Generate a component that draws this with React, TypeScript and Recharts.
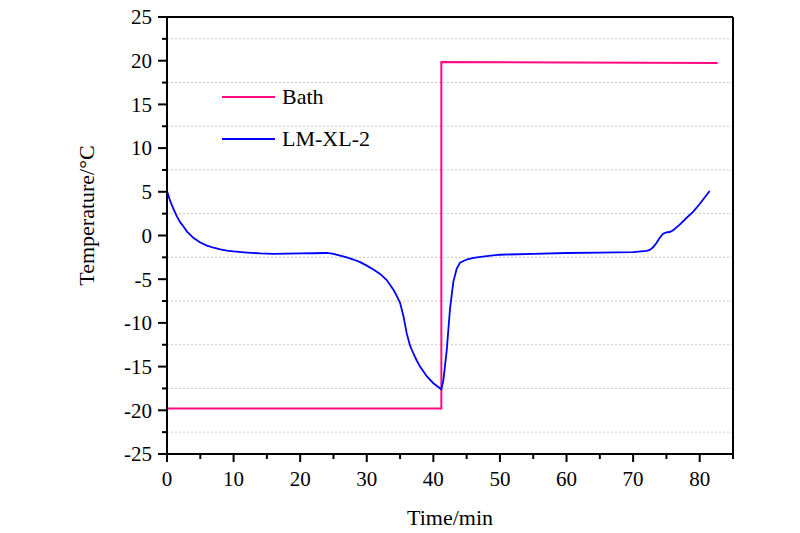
import React from "react";
import {
  LineChart,
  Line,
  XAxis,
  YAxis,
  CartesianGrid,
  ReferenceLine,
  Legend,
  Label,
} from "recharts";

// bath set-point (step change at ~41 min)
const bathTime = [0, 0, 41.2, 41.2, 60, 82.7];
const bathTemp = [20, -19.8, -19.8, 19.85, 19.8, 19.75];

// LM-XL-2 sample temperature
const sampleTime = [
  0, 0.5, 1, 1.5, 2, 2.5, 3, 4, 5, 6, 7, 8, 9, 10, 12, 14, 16, 18, 20, 22, 24,
  25, 26, 27, 28, 29, 30, 31, 32, 33, 34, 34.5, 35, 35.5, 36, 36.5, 37, 37.5,
  38, 39, 40, 41.2, 41.5, 42, 42.5, 43, 43.5, 44, 45, 46, 48, 50, 55, 60, 65,
  70, 72, 72.5, 73, 73.5, 74, 74.5, 75, 75.5, 76, 77, 78, 79, 80, 81, 81.5,
];
const sampleTemp = [
  5.1, 3.9, 3.0, 2.15, 1.5, 1.0, 0.45, -0.3, -0.8, -1.15, -1.4, -1.6, -1.72,
  -1.82, -1.95, -2.05, -2.1, -2.08, -2.05, -2.03, -2.0, -2.1, -2.3, -2.5,
  -2.75, -3.05, -3.45, -3.9, -4.4, -5.1, -6.2, -6.9, -7.7, -9.2, -11.2, -12.6,
  -13.5, -14.3, -15.0, -16.1, -16.9, -17.6, -16.6, -13.2, -8.4, -5.3, -3.8,
  -3.1, -2.75, -2.55, -2.35, -2.2, -2.1, -2.0, -1.95, -1.9, -1.75, -1.65,
  -1.35, -0.85, -0.25, 0.2, 0.35, 0.4, 0.6, 1.25, 2.0, 2.7, 3.6, 4.6, 5.1,
];

const timeTicks = [0, 5, 10, 15, 20, 25, 30, 35, 40, 45, 50, 55, 60, 65, 70, 75, 80, 85];
const tempTicks = [
  -25, -22.5, -20, -17.5, -15, -12.5, -10, -7.5, -5, -2.5, 0, 2.5, 5, 7.5, 10,
  12.5, 15, 17.5, 20, 22.5, 25,
];
const gridTemps = [22.5, 17.5, 12.5, 7.5, 2.5, -2.5, -7.5, -12.5, -17.5, -22.5];

const bathData = bathTime.map((t, i) => ({ time: t, temp: bathTemp[i] }));
const sampleData = sampleTime.map((t, i) => ({ time: t, temp: sampleTemp[i] }));

const FONT = '"Liberation Serif", "Times New Roman", serif';
const PINK = "#ff0a80";
const BLUE = "#0000ff";
const TICK_SIZE = 9;
const Y_GAP = 6;
const X_GAP = 8;

const YTick = (props: any) => {
  const { x, y, payload } = props;
  const v = payload.value;
  const major = v % 5 === 0;
  const axisX = x + TICK_SIZE + Y_GAP;
  return (
    <g>
      <line x1={axisX - (major ? 9 : 5)} x2={axisX} y1={y} y2={y} stroke="#000" strokeWidth={2} />
      {major && (
        <text x={x} y={y} dy="0.35em" textAnchor="end" fontSize={21} fontFamily={FONT} fill="#000">
          {v}
        </text>
      )}
    </g>
  );
};

const XTick = (props: any) => {
  const { x, y, payload } = props;
  const v = payload.value;
  const major = v % 10 === 0;
  const axisY = y - TICK_SIZE - X_GAP;
  return (
    <g>
      <line x1={x} x2={x} y1={axisY} y2={axisY + (major ? 8 : 5)} stroke="#000" strokeWidth={2} />
      {major && (
        <text x={x} y={y} dy="0.71em" textAnchor="middle" fontSize={21} fontFamily={FONT} fill="#000">
          {v}
        </text>
      )}
    </g>
  );
};

const renderLegend = () => (
  <div style={{ fontFamily: FONT, fontSize: 22, color: "#000" }}>
    {[
      { name: "Bath", color: PINK },
      { name: "LM-XL-2", color: BLUE },
    ].map((item) => (
      <div key={item.name} style={{ display: "flex", alignItems: "center", height: 42 }}>
        <svg width={53} height={4} style={{ display: "block" }}>
          <line x1={0} x2={53} y1={2} y2={2} stroke={item.color} strokeWidth={2} />
        </svg>
        <span style={{ marginLeft: 7, lineHeight: "22px" }}>{item.name}</span>
      </div>
    ))}
  </div>
);

export default function App() {
  return (
    <div style={{ position: "absolute", left: 0, top: 0, width: 800, height: 533, background: "#fff" }}>
      <LineChart width={800} height={533} margin={{ top: 17, right: 67, left: 0, bottom: 0 }}>
        <CartesianGrid
          vertical={false}
          horizontalValues={gridTemps}
          stroke="#c8c8c8"
          strokeDasharray="2 2"
        />
        <XAxis
          dataKey="time"
          type="number"
          domain={[0, 85]}
          ticks={timeTicks}
          interval={0}
          height={79}
          tickSize={TICK_SIZE}
          tickMargin={X_GAP}
          tickLine={false}
          axisLine={{ stroke: "#000", strokeWidth: 2 }}
          tick={<XTick />}
        >
          <Label
            content={(p: any) => {
              const vb = p.viewBox;
              return (
                <text x={vb.x + vb.width / 2} y={vb.y + 71} textAnchor="middle" fontSize={22} fontFamily={FONT} fill="#000">
                  Time/min
                </text>
              );
            }}
          />
        </XAxis>
        <YAxis
          type="number"
          domain={[-25, 25]}
          ticks={tempTicks}
          interval={0}
          width={167}
          tickSize={TICK_SIZE}
          tickMargin={Y_GAP}
          tickLine={false}
          axisLine={{ stroke: "#000", strokeWidth: 2 }}
          tick={<YTick />}
        >
          <Label
            content={(p: any) => {
              const vb = p.viewBox;
              const cx = vb.x + 86;
              const cy = vb.y + vb.height / 2 - 20;
              return (
                <text
                  x={cx}
                  y={cy}
                  dy="0.35em"
                  textAnchor="middle"
                  transform={`rotate(-90, ${cx}, ${cy})`}
                  fontSize={22}
                  fontFamily={FONT}
                  fill="#000"
                >
                  Temperature/°C
                </text>
              );
            }}
          />
        </YAxis>
        <ReferenceLine y={25} stroke="#000" strokeWidth={2} />
        <ReferenceLine x={85} stroke="#000" strokeWidth={2} />
        <Legend
          layout="vertical"
          align="center"
          verticalAlign="middle"
          content={renderLegend}
          wrapperStyle={{ left: 222, top: 76, width: "auto" }}
        />
        <Line
          data={bathData}
          dataKey="temp"
          name="Bath"
          type="linear"
          stroke={PINK}
          strokeWidth={2}
          dot={false}
          isAnimationActive={false}
        />
        <Line
          data={sampleData}
          dataKey="temp"
          name="LM-XL-2"
          type="linear"
          stroke={BLUE}
          strokeWidth={1.8}
          dot={false}
          isAnimationActive={false}
        />
      </LineChart>
    </div>
  );
}
